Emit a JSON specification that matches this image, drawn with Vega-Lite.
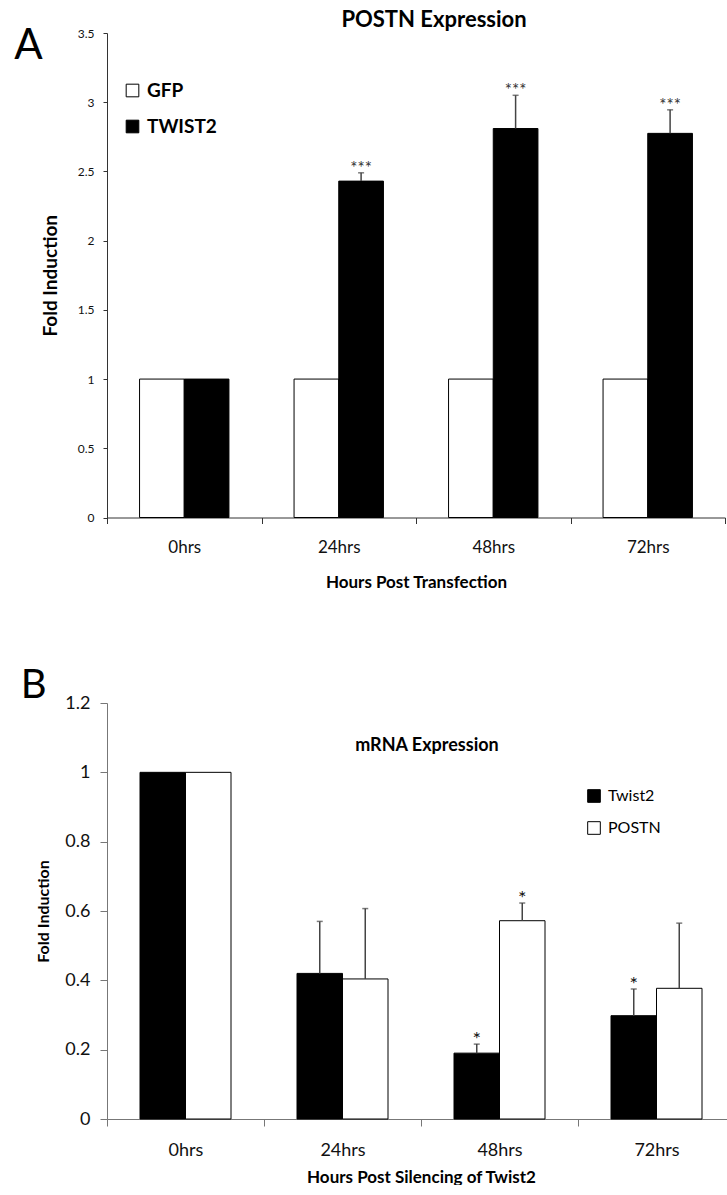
{
  "$schema": "https://vega.github.io/schema/vega-lite/v6.json",
  "background": "white",
  "padding": {"left": 14, "top": 9, "right": 0, "bottom": 0},
  "config": {
    "view": {"stroke": null},
    "font": "Lato",
    "axis": {"grid": false, "labelFont": "Lato", "titleFont": "Lato", "titleColor": "#000", "labelColor": "#111", "domainWidth": 1, "tickWidth": 1},
    "title": {"font": "Lato", "color": "#000"},
    "legend": {"labelFont": "Lato"}
  },
  "resolve": {"scale": {"fill": "independent"}, "legend": {"fill": "independent"}},
  "datasets": {
    "a": [
      {"time": "0hrs", "group": "GFP", "value": 1},
      {"time": "0hrs", "group": "TWIST2", "value": 1},
      {"time": "24hrs", "group": "GFP", "value": 1},
      {"time": "24hrs", "group": "TWIST2", "value": 2.43, "err_top": 2.49, "sig": "***"},
      {"time": "48hrs", "group": "GFP", "value": 1},
      {"time": "48hrs", "group": "TWIST2", "value": 2.81, "err_top": 3.05, "sig": "***"},
      {"time": "72hrs", "group": "GFP", "value": 1},
      {"time": "72hrs", "group": "TWIST2", "value": 2.775, "err_top": 2.945, "sig": "***"}
    ],
    "b": [
      {"time": "0hrs", "group": "Twist2", "value": 1},
      {"time": "0hrs", "group": "POSTN", "value": 1},
      {"time": "24hrs", "group": "Twist2", "value": 0.42, "err_top": 0.57},
      {"time": "24hrs", "group": "POSTN", "value": 0.404, "err_top": 0.607},
      {"time": "48hrs", "group": "Twist2", "value": 0.19, "err_top": 0.216, "sig": "*"},
      {"time": "48hrs", "group": "POSTN", "value": 0.572, "err_top": 0.623, "sig": "*"},
      {"time": "72hrs", "group": "Twist2", "value": 0.298, "err_top": 0.375, "sig": "*"},
      {"time": "72hrs", "group": "POSTN", "value": 0.377, "err_top": 0.565}
    ]
  },
  "columns": 1,
  "align": "none",
  "spacing": 75,
  "concat": [
    {
      "title": {"text": "POSTN Expression", "anchor": "middle", "frame": "group", "fontSize": 22, "fontWeight": "bold", "offset": -7, "dx": 327},
      "vconcat": [
        {
          "width": 618,
          "height": 484.5,
          "title": {"text": "A", "anchor": "start", "frame": "bounds", "fontSize": 42, "fontWeight": "normal", "dx": -27, "dy": 41, "offset": 0},
          "data": {"name": "a"},
          "encoding": {
            "x": {
              "field": "time", "type": "nominal", "sort": ["0hrs", "24hrs", "48hrs", "72hrs"],
              "title": "Hours Post Transfection",
              "scale": {"paddingInner": 0, "paddingOuter": 0},
              "axis": {"tickBand": "extent", "labelAngle": 0, "labelFontSize": 17, "labelPadding": 16, "tickSize": 6, "titleFontSize": 17, "titleFontWeight": "bold", "titlePadding": 19, "domainColor": "#333", "tickColor": "#333"}
            },
            "y": {
              "field": "value", "type": "quantitative", "title": "Fold Induction",
              "scale": {"domain": [0, 3.5]},
              "axis": {"values": [0, 0.5, 1, 1.5, 2, 2.5, 3, 3.5], "format": "~g", "labelFontSize": 12, "tickSize": 4, "labelPadding": 9, "titleFontSize": 19, "titleFontWeight": "bold", "titlePadding": 17, "domainColor": "#333", "tickColor": "#333"}
            }
          },
          "layer": [
            {
              "transform": [{"filter": "datum.group === 'GFP'"}],
              "mark": {"type": "bar", "stroke": "#000", "strokeWidth": 1, "width": 44.7, "xOffset": -22.35},
              "encoding": {
                "fill": {
                  "field": "group", "type": "nominal",
                  "scale": {"domain": ["GFP", "TWIST2"], "range": ["#ffffff", "#000000"]},
                  "legend": {"orient": "none", "legendX": 16, "legendY": 48, "title": null, "symbolType": "square", "symbolSize": 160, "symbolStrokeColor": "#000", "symbolStrokeWidth": 1, "labelFontSize": 19, "labelFontWeight": "bold", "labelColor": "#000", "labelOffset": 5, "rowPadding": 16, "padding": 0}
                }
              }
            },
            {
              "transform": [{"filter": "datum.group === 'TWIST2'"}],
              "mark": {"type": "bar", "stroke": "#000", "strokeWidth": 1, "width": 44.7, "xOffset": 22.35},
              "encoding": {
                "fill": {"field": "group", "type": "nominal"}
              }
            },
            {
              "transform": [{"filter": "isValid(datum.err_top)"}],
              "mark": {"type": "rule", "color": "#444", "strokeWidth": 1.5},
              "encoding": {
                "x": {"field": "time", "type": "nominal", "sort": ["0hrs", "24hrs", "48hrs", "72hrs"], "title": "Hours Post Transfection", "bandPosition": 0.6447},
                "y2": {"field": "err_top"}
              }
            },
            {
              "transform": [{"filter": "isValid(datum.err_top)"}],
              "mark": {"type": "tick", "color": "#444", "thickness": 1.5, "size": 6, "orient": "horizontal", "xOffset": 22.35},
              "encoding": {
                "y": {"field": "err_top", "type": "quantitative", "title": "Fold Induction"}
              }
            },
            {
              "transform": [{"filter": "isValid(datum.sig)"}],
              "mark": {"type": "text", "fontSize": 17, "color": "#333", "baseline": "alphabetic", "dy": 1},
              "encoding": {
                "x": {"field": "time", "type": "nominal", "sort": ["0hrs", "24hrs", "48hrs", "72hrs"], "title": "Hours Post Transfection", "bandPosition": 0.6447},
                "y": {"field": "err_top", "type": "quantitative", "title": "Fold Induction"},
                "text": {"field": "sig"}
              }
            }
          ]
        }
      ]
    },
    {
      "title": {"text": "mRNA Expression", "anchor": "middle", "frame": "group", "fontSize": 18, "fontWeight": "bold", "offset": -89, "dx": 320},
      "vconcat": [
        {
          "width": 628,
          "height": 416,
          "title": {"text": "B", "anchor": "start", "frame": "bounds", "fontSize": 40, "fontWeight": "normal", "dx": -15, "dy": 12, "offset": 0},
          "data": {"name": "b"},
          "encoding": {
            "x": {
              "field": "time", "type": "nominal", "sort": ["0hrs", "24hrs", "48hrs", "72hrs"],
              "title": "Hours Post Silencing of Twist2",
              "scale": {"paddingInner": 0, "paddingOuter": 0},
              "axis": {"tickBand": "extent", "labelAngle": 0, "labelFontSize": 18, "labelPadding": 15, "tickSize": 7, "titleFontSize": 17, "titleFontWeight": "bold", "titlePadding": 10, "domainColor": "#777", "tickColor": "#777"}
            },
            "y": {
              "field": "value", "type": "quantitative", "title": "Fold Induction",
              "scale": {"domain": [0, 1.2]},
              "axis": {"values": [0, 0.2, 0.4, 0.6, 0.8, 1, 1.2], "format": "~g", "labelFontSize": 18, "tickSize": 7, "labelPadding": 10, "titleFontSize": 16, "titleFontWeight": "bold", "titlePadding": 13, "domainColor": "#777", "tickColor": "#777"}
            }
          },
          "layer": [
            {
              "transform": [{"filter": "datum.group === 'Twist2'"}],
              "mark": {"type": "bar", "stroke": "#000", "strokeWidth": 1, "width": 45.5, "xOffset": -22.75},
              "encoding": {
                "fill": {
                  "field": "group", "type": "nominal",
                  "scale": {"domain": ["Twist2", "POSTN"], "range": ["#000000", "#ffffff"]},
                  "legend": {"orient": "none", "legendX": 479, "legendY": 85, "title": null, "symbolType": "square", "symbolSize": 160, "symbolStrokeColor": "#000", "symbolStrokeWidth": 1, "labelFontSize": 16, "labelColor": "#000", "labelOffset": 6, "rowPadding": 14, "padding": 0}
                }
              }
            },
            {
              "transform": [{"filter": "datum.group === 'POSTN'"}],
              "mark": {"type": "bar", "stroke": "#000", "strokeWidth": 1, "width": 45.5, "xOffset": 22.75},
              "encoding": {
                "fill": {"field": "group", "type": "nominal"}
              }
            },
            {
              "transform": [{"filter": "datum.group === 'Twist2' && isValid(datum.err_top)"}],
              "mark": {"type": "rule", "color": "#444", "strokeWidth": 1.5},
              "encoding": {
                "x": {"field": "time", "type": "nominal", "sort": ["0hrs", "24hrs", "48hrs", "72hrs"], "title": "Hours Post Silencing of Twist2", "bandPosition": 0.3551},
                "y2": {"field": "err_top"}
              }
            },
            {
              "transform": [{"filter": "datum.group === 'POSTN' && isValid(datum.err_top)"}],
              "mark": {"type": "rule", "color": "#444", "strokeWidth": 1.5},
              "encoding": {
                "x": {"field": "time", "type": "nominal", "sort": ["0hrs", "24hrs", "48hrs", "72hrs"], "title": "Hours Post Silencing of Twist2", "bandPosition": 0.6449},
                "y2": {"field": "err_top"}
              }
            },
            {
              "transform": [{"filter": "datum.group === 'Twist2' && isValid(datum.err_top)"}],
              "mark": {"type": "tick", "color": "#444", "thickness": 1.5, "size": 6, "orient": "horizontal", "xOffset": -22.75},
              "encoding": {
                "y": {"field": "err_top", "type": "quantitative", "title": "Fold Induction"}
              }
            },
            {
              "transform": [{"filter": "datum.group === 'POSTN' && isValid(datum.err_top)"}],
              "mark": {"type": "tick", "color": "#444", "thickness": 1.5, "size": 6, "orient": "horizontal", "xOffset": 22.75},
              "encoding": {
                "y": {"field": "err_top", "type": "quantitative", "title": "Fold Induction"}
              }
            },
            {
              "transform": [{"filter": "datum.group === 'Twist2' && isValid(datum.sig)"}],
              "mark": {"type": "text", "fontSize": 20, "color": "#111", "baseline": "alphabetic", "dy": 2},
              "encoding": {
                "x": {"field": "time", "type": "nominal", "sort": ["0hrs", "24hrs", "48hrs", "72hrs"], "title": "Hours Post Silencing of Twist2", "bandPosition": 0.3551},
                "y": {"field": "err_top", "type": "quantitative", "title": "Fold Induction"},
                "text": {"field": "sig"}
              }
            },
            {
              "transform": [{"filter": "datum.group === 'POSTN' && isValid(datum.sig)"}],
              "mark": {"type": "text", "fontSize": 20, "color": "#111", "baseline": "alphabetic", "dy": 2},
              "encoding": {
                "x": {"field": "time", "type": "nominal", "sort": ["0hrs", "24hrs", "48hrs", "72hrs"], "title": "Hours Post Silencing of Twist2", "bandPosition": 0.6449},
                "y": {"field": "err_top", "type": "quantitative", "title": "Fold Induction"},
                "text": {"field": "sig"}
              }
            }
          ]
        }
      ]
    }
  ]
}
